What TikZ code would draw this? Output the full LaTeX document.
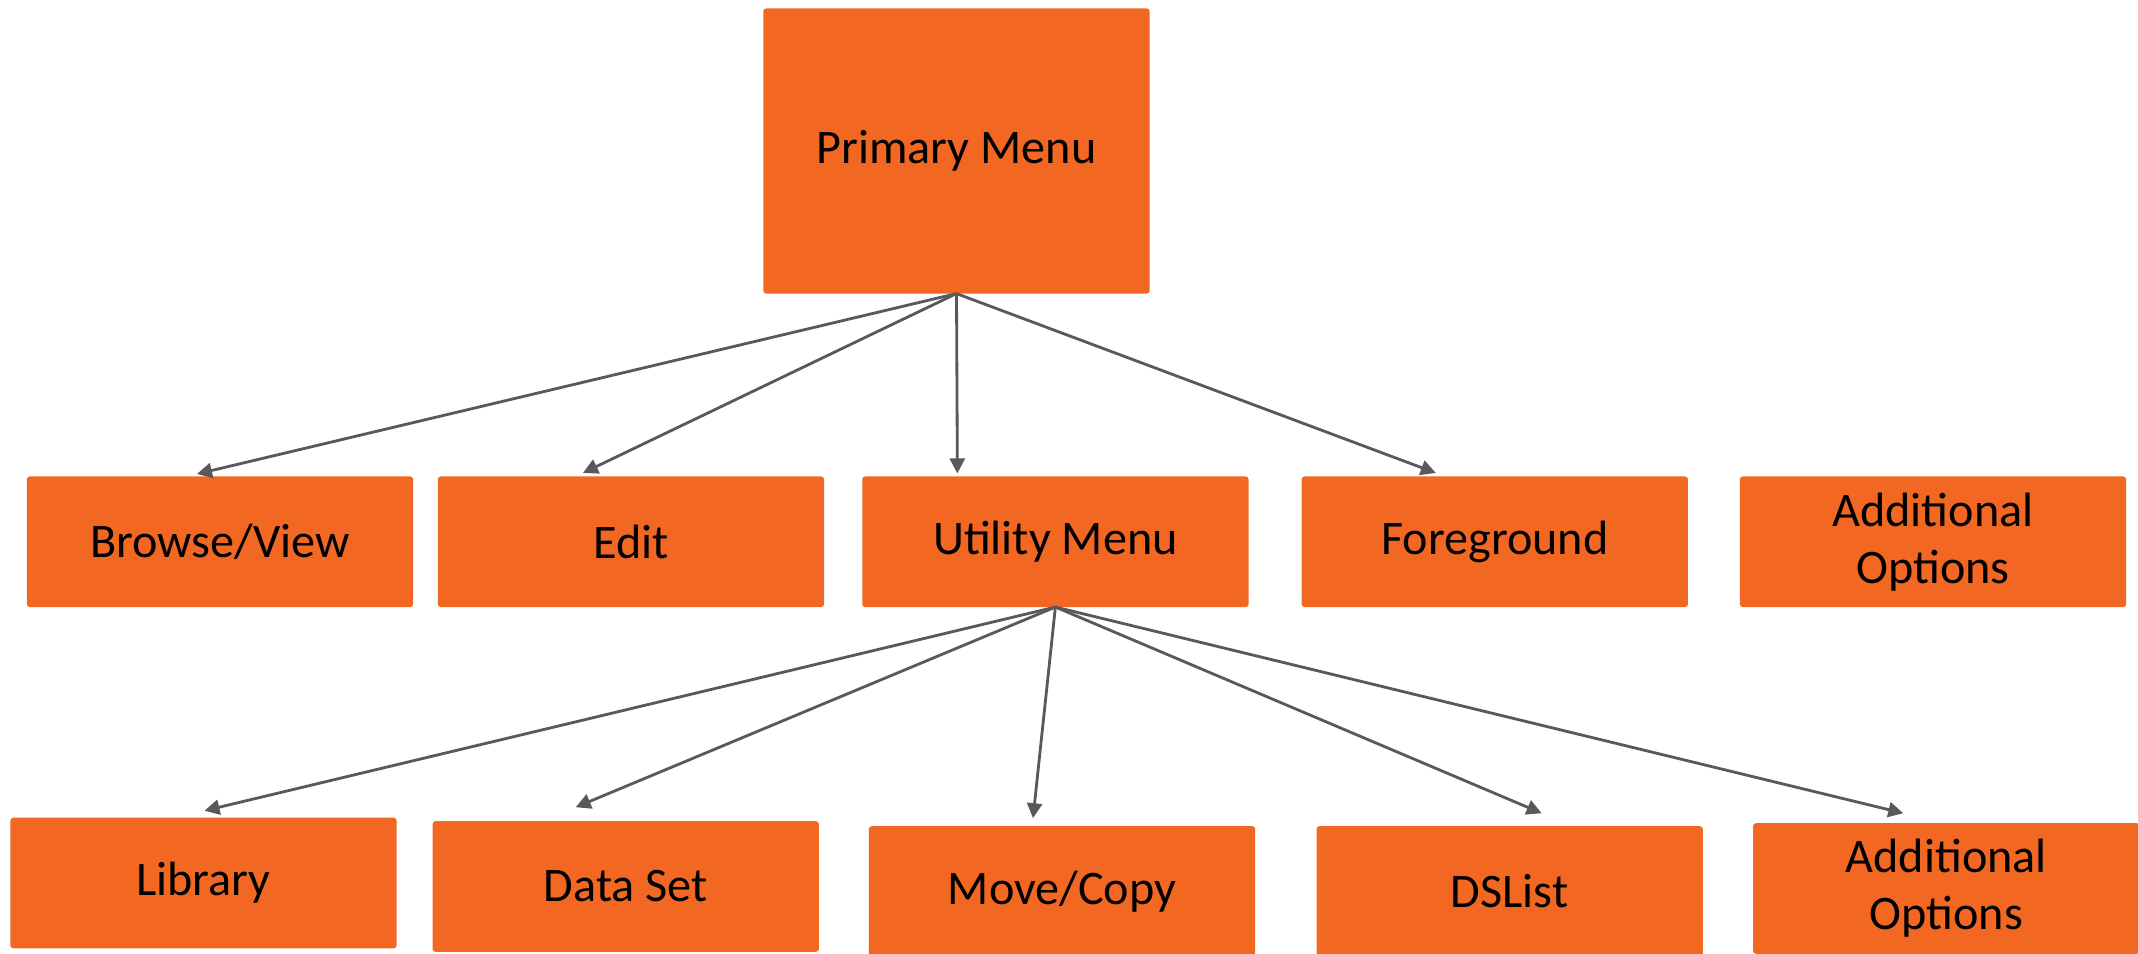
\documentclass[tikz,border=0pt]{standalone}
\usepackage{fontspec}
\setmainfont{Carlito}
\usetikzlibrary{arrows.meta, positioning}
\definecolor{menuorange}{HTML}{F26722}
\definecolor{arrowgray}{HTML}{58595B}
\tikzstyle{block} = [rectangle, fill=menuorange, text=black,
    minimum width=3.86cm, minimum height=1.305cm, inner sep=0pt, outer sep=0pt,
    rounded corners=0.8pt, align=center, font=\fontsize{13.7}{16.2}\selectfont]
\tikzstyle{line} = [draw=arrowgray, line width=0.8pt, -{Triangle[length=0.15cm, width=0.15cm]}]

\begin{document}
\begin{tikzpicture}[x=0.01cm, y=-0.01cm]
		\useasboundingbox (0,0) rectangle (2138,954);
		% node placement
		\node [block, minimum height=2.85cm] (prim) at (956.5,151) {Primary Menu};
		
		\node [block] (browse) at (220,541.75) {Browse/View};
		\node [block, right = 0.247cm of browse] (edit) {Edit};
		\node [block, right = 0.382cm of edit] (util) {Utility Menu};
		\node [block, right = 0.532cm of util] (fore) {Foreground};
		\node [block, right = 0.519cm of fore] (addopt) {Additional\\Options};
		
		\node [block] (lib) at (203.5,883) {Library};
		\node [block, right = 0.36cm of lib, yshift = -0.035cm] (dset) {Data Set};
		\node [block, right = 0.50cm of dset, yshift = -0.05cm] (move) {Move/Copy};
		\node [block, right = 0.614cm of move] (dslist) {DSList};
		\node [block, right = 0.504cm of dslist, yshift = 0.03cm] (addopttwo) {Additional\\Options};
		
		% connectors
		\path[line] (prim.south) -- ([shift={(-23,-2.5)}]browse.north);
		\path[line] (prim.south) -- ([shift={(-48,-3.5)}]edit.north);
		\path[line] (prim.south) -- ([shift={(-98,-3)}]util.north);
		\path[line] (prim.south) -- ([shift={(-59,-3.5)}]fore.north);
		
		\path[line] (util.south) -- ([shift={(1,-7)}]lib.north);
		\path[line] (util.south) -- ([shift={(-50,-14)}]dset.north);
		\path[line] (util.south) -- ([shift={(-29,-8)}]move.north);
		\path[line] (util.south) -- ([shift={(32,-13)}]dslist.north);
		\path[line] (util.south) -- ([shift={(-43,-10)}]addopttwo.north);
	\end{tikzpicture}
\end{document}
